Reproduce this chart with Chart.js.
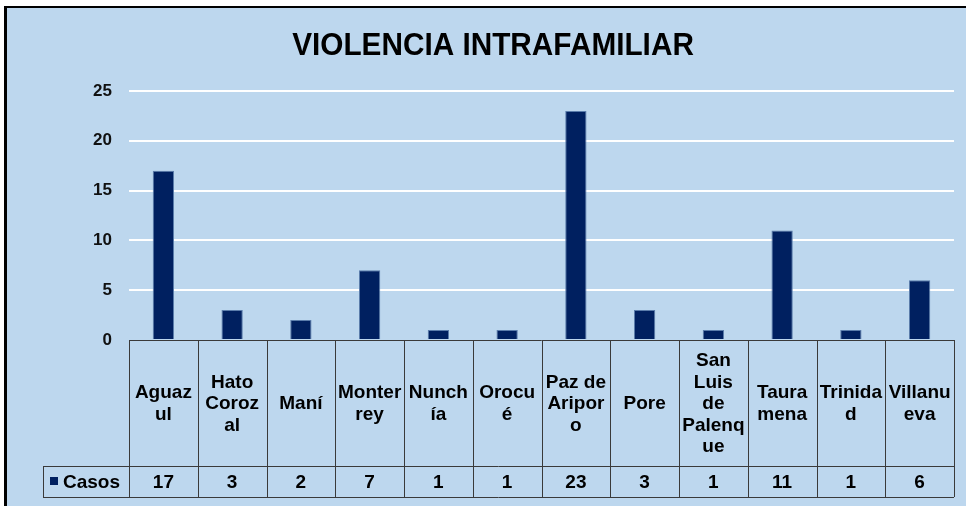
<!DOCTYPE html>
<html lang="es">
<head>
    <meta charset="UTF-8">
    <title>Violencia Intrafamiliar</title>
    <script src="https://cdn.jsdelivr.net/npm/chart.js"></script>
    <style>
        body { margin: 0; padding: 0; background: #fff; }
        canvas { display: block; }
    </style>
</head>
<body>
<canvas id="vifChart" width="966" height="506"></canvas>

<script>
    // datos
    const municipios = ['Aguazul', 'Hato Corozal', 'Maní', 'Monterrey', 'Nunchía', 'Orocué',
      'Paz de Ariporo', 'Pore', 'San Luis de Palenque', 'Tauramena', 'Trinidad', 'Villanueva'];
    // como se parten los nombres dentro de la tabla
    const etiquetas = [['Aguaz', 'ul'], ['Hato', 'Coroz', 'al'], ['Maní'], ['Monter', 'rey'],
      ['Nunch', 'ía'], ['Orocu', 'é'], ['Paz de', 'Aripor', 'o'], ['Pore'],
      ['San', 'Luis', 'de', 'Palenq', 'ue'], ['Taura', 'mena'], ['Trinida', 'd'], ['Villanu', 'eva']];
    const casos = [17, 3, 2, 7, 1, 1, 23, 3, 1, 11, 1, 6];
    const serie = 'Casos';
    const titulo = 'VIOLENCIA INTRAFAMILIAR';

    const AZUL = '#002060';
    const FONT = "'Liberation Sans', Arial, sans-serif";

    // fondo, marco y titulo
    const fondo = {
      id: 'fondo',
      beforeDraw(chart) {
        const ctx = chart.ctx;
        ctx.save();
        ctx.fillStyle = '#fff';
        ctx.fillRect(0, 0, chart.width, chart.height);
        ctx.fillStyle = '#BDD7EE';
        ctx.fillRect(4, 6, chart.width - 4, chart.height - 6);
        ctx.fillStyle = '#000';
        ctx.fillRect(4, 6, chart.width - 4, 2);
        ctx.fillRect(4, 6, 3, chart.height - 6);

        ctx.fillStyle = '#000';
        ctx.font = 'bold 32px ' + FONT;
        ctx.textAlign = 'center';
        ctx.textBaseline = 'alphabetic';
        ctx.translate(493, 55);
        ctx.scale(0.93, 1);
        ctx.fillText(titulo, 0, 0);
        ctx.restore();
      }
    };

    // tabla de datos debajo del eje
    const tabla = {
      id: 'tabla',
      afterDraw(chart) {
        const ctx = chart.ctx;
        const a = chart.chartArea;
        const n = municipios.length;
        const w = (a.right - a.left) / n;
        const top = a.bottom, mid = 466, bot = 497, legLeft = 43;

        ctx.save();
        ctx.strokeStyle = '#3a3a3a';
        ctx.lineWidth = 1;
        ctx.beginPath();
        ctx.moveTo(a.left, top + 0.5); ctx.lineTo(a.right, top + 0.5);
        ctx.moveTo(legLeft, mid + 0.5); ctx.lineTo(a.right, mid + 0.5);
        ctx.moveTo(legLeft, bot + 0.5); ctx.lineTo(a.right, bot + 0.5);
        ctx.moveTo(legLeft + 0.5, mid); ctx.lineTo(legLeft + 0.5, bot);
        for (let i = 0; i <= n; i++) {
          const x = Math.round(a.left + i * w) + 0.5;
          ctx.moveTo(x, top); ctx.lineTo(x, bot);
        }
        ctx.stroke();

        ctx.fillStyle = '#000';
        ctx.font = 'bold 19px ' + FONT;
        ctx.textAlign = 'center';
        ctx.textBaseline = 'middle';
        const lh = 21.5;
        const cy = (top + mid) / 2 + 1;
        etiquetas.forEach((lines, i) => {
          const cx = chart.scales.x.getPixelForValue(i);
          const y0 = cy - (lines.length - 1) * lh / 2;
          lines.forEach((t, j) => ctx.fillText(t, cx, y0 + j * lh));
        });
        casos.forEach((v, i) => {
          ctx.fillText(String(v), chart.scales.x.getPixelForValue(i), (mid + bot) / 2 + 1);
        });

        // leyenda
        ctx.fillStyle = AZUL;
        ctx.fillRect(50, 477, 8, 8);
        ctx.fillStyle = '#000';
        ctx.textAlign = 'left';
        ctx.fillText(serie, 63, (mid + bot) / 2 + 1);
        ctx.restore();
      }
    };

    new Chart(document.getElementById('vifChart'), {
      type: 'bar',
      data: {
        labels: municipios,
        datasets: [{
          label: serie,
          data: casos,
          backgroundColor: AZUL,
          borderColor: '#5a7cab',
          borderWidth: 1,
          barPercentage: 0.31,
          categoryPercentage: 1
        }]
      },
      options: {
        responsive: false,
        animation: false,
        layout: { padding: { top: 91, bottom: 166, left: 0, right: 12 } },
        plugins: {
          legend: { display: false },
          title: { display: false },
          tooltip: { enabled: false }
        },
        scales: {
          x: { display: false },
          y: {
            min: 0,
            max: 25,
            afterFit(scale) { scale.width = 129; },
            ticks: {
              stepSize: 5,
              padding: 17,
              color: '#111',
              font: { family: FONT, size: 17, weight: 'bold' }
            },
            grid: {
              drawTicks: false,
              lineWidth: 2,
              color: ctx => ctx.tick && ctx.tick.value === 0 ? 'rgba(0,0,0,0)' : '#ffffff'
            },
            border: { display: false }
          }
        }
      },
      plugins: [fondo, tabla]
    });
</script>
</body>
</html>
